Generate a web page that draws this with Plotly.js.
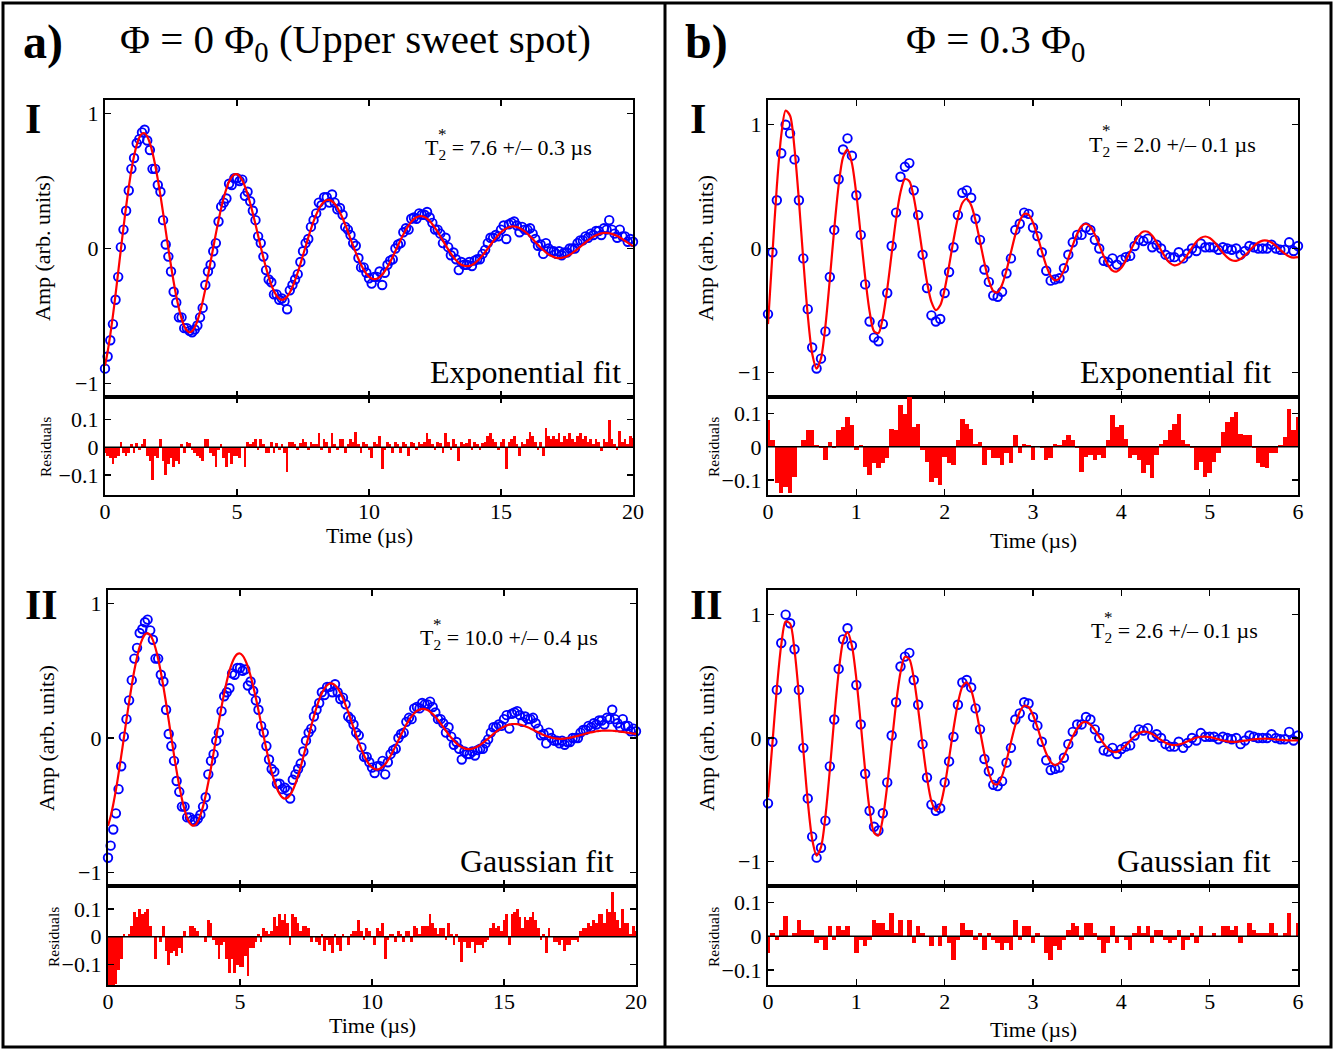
<!DOCTYPE html>
<html><head><meta charset="utf-8">
<script src="https://cdn.plot.ly/plotly-3.0.1.min.js"></script>
<style>html,body{margin:0;padding:0;background:#fff}#chart{width:1335px;height:1050px}</style>
</head><body><div id="chart"></div>
<script>
// ---------- Panel a (Phi = 0), time step 0.1 us, 0..20 us ----------
const timeStartA = 0, timeStepA = 0.1;
const dataA = [-0.89,-0.80,-0.68,-0.56,-0.38,-0.21,0.01,0.14,0.28,0.43,
0.59,0.67,0.78,0.81,0.86,0.88,0.80,0.73,0.59,0.59,
0.47,0.42,0.21,0.03,-0.06,-0.17,-0.32,-0.40,-0.51,-0.51,
-0.59,-0.59,-0.61,-0.62,-0.60,-0.57,-0.51,-0.44,-0.27,-0.17,
-0.12,-0.02,0.04,0.20,0.31,0.34,0.37,0.48,0.47,0.52,
0.52,0.50,0.51,0.39,0.42,0.35,0.28,0.21,0.09,0.04,
-0.06,-0.16,-0.23,-0.25,-0.34,-0.34,-0.38,-0.37,-0.39,-0.45,
-0.31,-0.27,-0.23,-0.19,-0.10,-0.02,0.04,0.07,0.16,0.21,
0.26,0.34,0.32,0.38,0.38,0.34,0.40,0.34,0.29,0.30,
0.25,0.16,0.14,0.10,0.04,0.02,-0.07,-0.14,-0.14,-0.18,
-0.22,-0.26,-0.21,-0.21,-0.17,-0.27,-0.18,-0.12,-0.09,-0.08,
0.00,0.03,0.04,0.12,0.15,0.14,0.22,0.23,0.22,0.26,
0.25,0.25,0.27,0.23,0.19,0.14,0.14,0.11,0.04,0.08,
0.01,-0.05,-0.03,-0.08,-0.16,-0.10,-0.12,-0.12,-0.10,-0.13,
-0.09,-0.08,-0.08,-0.04,-0.01,0.04,0.08,0.08,0.10,0.09,
0.14,0.17,0.07,0.18,0.19,0.20,0.17,0.12,0.16,0.14,
0.14,0.15,0.11,0.07,0.02,0.03,-0.04,0.04,0.00,-0.02,
-0.02,-0.04,-0.02,-0.05,-0.03,-0.03,0.00,0.00,0.00,0.04,
0.06,0.06,0.09,0.08,0.11,0.10,0.13,0.13,0.10,0.15,
0.14,0.21,0.14,0.11,0.08,0.14,0.09,0.09,0.05,0.07,
0.05];
const expFitA = [-0.868,-0.765,-0.640,-0.497,-0.340,-0.175,-0.009,0.155,0.311,0.454,
0.580,0.685,0.766,0.822,0.851,0.854,0.830,0.781,0.710,0.619,
0.512,0.393,0.264,0.132,0.000,-0.127,-0.246,-0.353,-0.445,-0.519,
-0.574,-0.608,-0.621,-0.612,-0.583,-0.536,-0.471,-0.392,-0.301,-0.202,
-0.098,0.006,0.110,0.208,0.299,0.378,0.444,0.496,0.531,0.549,
0.551,0.536,0.505,0.460,0.403,0.335,0.260,0.179,0.095,0.012,
-0.068,-0.143,-0.211,-0.269,-0.315,-0.350,-0.371,-0.380,-0.374,-0.356,
-0.326,-0.285,-0.235,-0.178,-0.116,-0.050,0.016,0.082,0.144,0.201,
0.251,0.293,0.325,0.347,0.359,0.360,0.350,0.331,0.303,0.266,
0.224,0.176,0.125,0.072,0.020,-0.031,-0.078,-0.121,-0.157,-0.187,
-0.209,-0.222,-0.227,-0.224,-0.212,-0.193,-0.168,-0.136,-0.100,-0.061,
-0.019,0.022,0.064,0.103,0.139,0.170,0.197,0.217,0.231,0.239,
0.239,0.233,0.221,0.203,0.180,0.153,0.123,0.091,0.058,0.025,
-0.007,-0.037,-0.064,-0.087,-0.106,-0.120,-0.128,-0.131,-0.129,-0.122,
-0.110,-0.093,-0.074,-0.051,-0.026,0.000,0.026,0.052,0.077,0.100,
0.120,0.136,0.149,0.158,0.163,0.163,0.159,0.152,0.140,0.126,
0.109,0.090,0.070,0.049,0.028,0.008,-0.011,-0.028,-0.043,-0.054,
-0.063,-0.069,-0.071,-0.069,-0.065,-0.057,-0.047,-0.034,-0.020,-0.004,
0.012,0.029,0.045,0.061,0.075,0.088,0.098,0.106,0.112,0.115,
0.115,0.113,0.108,0.101,0.092,0.081,0.069,0.056,0.043,0.030,
0.017];
const expResA = [-0.02,-0.03,-0.04,-0.06,-0.04,-0.03,0.02,-0.02,-0.03,-0.02,
0.01,-0.02,0.015,-0.01,0.01,0.03,-0.03,-0.05,-0.12,-0.03,
-0.04,0.03,-0.05,-0.10,-0.06,-0.04,-0.07,-0.05,-0.06,0.01,
-0.02,0.02,0.015,-0.01,-0.02,-0.03,-0.04,-0.05,0.03,0.03,
-0.02,-0.03,-0.07,-0.01,0.01,-0.04,-0.07,-0.02,-0.06,-0.03,
-0.03,-0.04,0.0,-0.07,0.02,0.01,0.02,0.03,-0.01,0.03,
0.01,-0.02,-0.02,0.02,-0.02,0.015,-0.01,0.01,-0.02,-0.09,
0.02,0.02,0.01,-0.01,0.015,0.03,0.02,-0.01,0.02,0.01,
0.01,0.05,-0.01,0.03,0.02,-0.02,0.05,0.01,-0.01,0.03,
0.03,-0.02,0.01,0.03,0.02,0.055,0.01,-0.02,0.02,0.01,
-0.01,-0.04,0.02,0.01,0.04,-0.08,-0.01,0.02,0.01,-0.02,
0.02,0.01,-0.02,0.02,0.01,-0.03,0.02,0.015,-0.01,0.02,
0.01,0.02,0.05,0.03,0.01,-0.01,0.02,0.015,-0.02,0.05,
0.02,-0.01,0.03,0.01,-0.05,0.02,0.01,0.015,0.03,-0.01,
0.02,0.01,-0.01,0.015,0.02,0.04,0.05,0.03,0.02,-0.01,
0.02,0.03,-0.08,0.02,0.03,0.04,0.01,-0.03,0.02,0.01,
0.03,0.055,0.04,0.02,-0.01,0.02,-0.03,0.07,0.04,0.03,
0.04,0.03,0.05,0.02,0.04,0.03,0.05,0.03,0.02,0.04,
0.05,0.03,0.04,0.02,0.03,0.01,0.03,0.02,-0.015,0.03,
0.02,0.1,0.03,0.01,-0.01,0.06,0.02,0.03,0.01,0.04,
0.035];
const gaussFitA = [-0.653,-0.583,-0.492,-0.386,-0.265,-0.135,0.000,0.136,0.268,0.392,
0.505,0.601,0.679,0.735,0.770,0.780,0.765,0.727,0.667,0.588,
0.491,0.380,0.258,0.131,0.002,-0.125,-0.246,-0.356,-0.453,-0.533,
-0.594,-0.633,-0.651,-0.647,-0.621,-0.574,-0.508,-0.425,-0.329,-0.223,
-0.111,0.005,0.120,0.230,0.332,0.422,0.499,0.558,0.601,0.624,
0.628,0.612,0.578,0.528,0.463,0.385,0.298,0.204,0.107,0.010,
-0.084,-0.173,-0.252,-0.320,-0.376,-0.416,-0.441,-0.451,-0.444,-0.423,
-0.387,-0.339,-0.280,-0.213,-0.139,-0.063,0.015,0.090,0.162,0.228,
0.285,0.332,0.368,0.392,0.405,0.404,0.392,0.369,0.336,0.294,
0.245,0.192,0.135,0.077,0.020,-0.035,-0.085,-0.130,-0.168,-0.198,
-0.219,-0.231,-0.235,-0.229,-0.215,-0.194,-0.167,-0.134,-0.097,-0.057,
-0.017,0.024,0.063,0.100,0.133,0.161,0.184,0.201,0.211,0.216,
0.215,0.208,0.195,0.178,0.157,0.134,0.108,0.081,0.054,0.027,
0.003,-0.020,-0.040,-0.056,-0.069,-0.077,-0.082,-0.082,-0.079,-0.073,
-0.063,-0.051,-0.036,-0.020,-0.004,0.013,0.030,0.046,0.060,0.073,
0.084,0.093,0.099,0.103,0.104,0.103,0.100,0.095,0.088,0.080,
0.071,0.061,0.051,0.041,0.032,0.023,0.015,0.008,0.003,-0.002,
-0.004,-0.006,-0.006,-0.004,-0.002,0.002,0.006,0.011,0.016,0.022,
0.027,0.033,0.038,0.042,0.046,0.050,0.052,0.054,0.055,0.055,
0.055,0.054,0.052,0.050,0.047,0.045,0.042,0.039,0.036,0.033,
0.031];
const gaussResA = [-0.24,-0.22,-0.19,-0.17,-0.12,-0.08,0.01,0.00,0.01,0.04,
0.09,0.07,0.10,0.08,0.09,0.10,0.04,0.00,-0.08,0.00,
-0.02,0.04,-0.05,-0.10,-0.06,-0.05,-0.07,-0.04,-0.06,0.02,
0.00,0.04,0.04,0.03,0.02,0.00,0.00,-0.02,0.06,0.05,
-0.01,-0.03,-0.08,-0.03,-0.02,-0.08,-0.13,-0.08,-0.13,-0.10,
-0.11,-0.11,-0.07,-0.14,-0.04,-0.04,-0.02,0.01,-0.02,0.03,
0.02,0.01,0.02,0.07,0.04,0.08,0.06,0.08,0.05,-0.03,
0.08,0.07,0.05,0.02,0.04,0.04,0.03,-0.02,0.00,-0.02,
-0.03,0.01,-0.05,-0.01,-0.03,-0.06,0.01,-0.03,-0.05,0.01,
0.00,-0.03,0.01,0.02,0.02,0.06,0.02,-0.01,0.03,0.02,
0.00,-0.03,0.03,0.02,0.05,-0.08,-0.01,0.01,0.01,-0.02,
0.02,0.01,-0.02,0.02,0.02,-0.02,0.04,0.03,0.01,0.04,
0.04,0.04,0.08,0.05,0.03,0.01,0.03,0.03,-0.01,0.05,
0.01,-0.03,0.01,-0.02,-0.09,-0.02,-0.04,-0.04,-0.02,-0.06,
-0.03,-0.03,-0.04,-0.02,-0.01,0.03,0.05,0.03,0.04,0.02,
0.06,0.08,-0.03,0.08,0.09,0.10,0.07,0.03,0.07,0.06,
0.07,0.09,0.06,0.03,-0.01,0.01,-0.06,0.03,0.00,-0.02,
-0.02,-0.03,-0.01,-0.05,-0.03,-0.03,-0.01,-0.01,-0.02,0.02,
0.03,0.03,0.05,0.04,0.06,0.05,0.08,0.08,0.05,0.10,
0.09,0.16,0.09,0.06,0.03,0.10,0.05,0.05,0.01,0.04,
0.02];

// ---------- Panel b (Phi = 0.3), time step 0.05 us, 0..6 us ----------
const timeStartB = 0, timeStepB = 0.05;
const dataB = [-0.53,-0.03,0.39,0.77,1.00,0.93,0.72,0.39,-0.08,-0.49,
-0.80,-0.97,-0.89,-0.67,-0.23,0.15,0.56,0.80,0.89,0.75,
0.43,0.11,-0.29,-0.59,-0.72,-0.75,-0.61,-0.36,0.02,0.29,
0.58,0.66,0.69,0.47,0.27,-0.05,-0.32,-0.54,-0.59,-0.57,
-0.36,-0.19,0.01,0.27,0.45,0.47,0.41,0.24,0.07,-0.17,
-0.27,-0.38,-0.39,-0.35,-0.20,-0.08,0.15,0.20,0.29,0.28,
0.17,0.10,-0.03,-0.18,-0.26,-0.25,-0.24,-0.16,-0.05,0.05,
0.11,0.11,0.17,0.15,0.07,0.00,-0.10,-0.11,-0.08,-0.13,
-0.09,-0.07,-0.06,0.02,0.07,0.06,0.08,0.01,0.03,0.00,
-0.05,-0.07,-0.07,-0.03,-0.08,-0.04,0.00,-0.02,0.04,0.01,
0.01,0.01,-0.01,0.01,0.00,-0.01,0.00,-0.05,-0.02,0.02,
0.01,0.00,0.00,0.00,0.03,0.00,-0.01,-0.01,0.05,-0.02,
0.02];
const expFitB = [-0.611,-0.045,0.501,0.914,1.115,1.073,0.808,0.387,-0.097,-0.538,
-0.849,-0.971,-0.887,-0.625,-0.248,0.159,0.512,0.739,0.800,0.689,
0.439,0.108,-0.231,-0.508,-0.669,-0.684,-0.559,-0.326,-0.040,0.240,
0.454,0.561,0.544,0.414,0.201,-0.044,-0.271,-0.432,-0.498,-0.459,
-0.330,-0.139,0.068,0.249,0.368,0.402,0.350,0.225,0.057,-0.116,
-0.259,-0.343,-0.354,-0.293,-0.177,-0.031,0.112,0.223,0.279,0.273,
0.209,0.102,-0.022,-0.139,-0.222,-0.258,-0.241,-0.176,-0.080,0.026,
0.119,0.181,0.200,0.175,0.113,0.028,-0.061,-0.134,-0.179,-0.186,
-0.156,-0.098,-0.024,0.049,0.106,0.137,0.135,0.103,0.050,-0.014,
-0.073,-0.117,-0.136,-0.128,-0.096,-0.048,0.006,0.054,0.086,0.097,
0.085,0.054,0.011,-0.034,-0.072,-0.095,-0.100,-0.085,-0.056,-0.019,
0.019,0.048,0.064,0.064,0.049,0.022,-0.011,-0.041,-0.064,-0.074,
-0.070];
const expResB = [0.08,0.02,-0.11,-0.14,-0.12,-0.14,-0.09,0.0,0.02,0.05,
0.05,0.005,-0.005,-0.04,0.015,-0.005,0.05,0.06,0.09,0.065,
-0.01,0.005,-0.06,-0.085,-0.05,-0.065,-0.05,-0.035,0.055,0.05,
0.125,0.10,0.15,0.06,0.07,-0.01,-0.045,-0.105,-0.095,-0.115,
-0.03,-0.05,-0.055,0.02,0.085,0.07,0.055,0.01,0.015,-0.055,
-0.01,-0.035,-0.035,-0.055,-0.02,-0.05,0.035,-0.02,0.01,0.005,
-0.04,0.0,-0.005,-0.04,-0.035,0.01,0.005,0.02,0.035,0.02,
-0.005,-0.075,-0.03,-0.025,-0.04,-0.025,-0.035,0.02,0.095,0.06,
0.065,0.025,-0.035,-0.025,-0.04,-0.08,-0.055,-0.095,-0.025,0.01,
0.02,0.05,0.07,0.10,0.02,0.01,-0.005,-0.07,-0.045,-0.09,
-0.08,-0.045,-0.02,0.045,0.075,0.09,0.105,0.04,0.035,0.035,
-0.005,-0.05,-0.06,-0.065,-0.02,-0.02,0.005,0.03,0.115,0.05,
0.09];
const gaussFitB = [-0.481,-0.043,0.401,0.755,0.944,0.928,0.712,0.345,-0.096,-0.513,
-0.820,-0.953,-0.885,-0.635,-0.259,0.161,0.534,0.783,0.859,0.748,
0.480,0.116,-0.264,-0.580,-0.767,-0.791,-0.650,-0.383,-0.050,0.278,
0.531,0.658,0.640,0.486,0.235,-0.056,-0.323,-0.513,-0.589,-0.542,
-0.388,-0.165,0.075,0.282,0.415,0.451,0.388,0.245,0.059,-0.130,
-0.282,-0.368,-0.375,-0.307,-0.185,-0.036,0.105,0.210,0.261,0.250,
0.186,0.086,-0.026,-0.126,-0.194,-0.220,-0.201,-0.146,-0.069,0.012,
0.079,0.120,0.130,0.109,0.065,0.009,-0.046,-0.089,-0.112,-0.113,
-0.093,-0.060,-0.022,0.014,0.039,0.051,0.048,0.032,0.009,-0.016,
-0.038,-0.053,-0.058,-0.053,-0.042,-0.026,-0.011,0.002,0.010,0.011,
0.007,-0.001,-0.011,-0.020,-0.027,-0.031,-0.031,-0.027,-0.022,-0.016,
-0.011,-0.007,-0.006,-0.006,-0.008,-0.012,-0.015,-0.018,-0.020,-0.020,
-0.020];
const gaussResB = [-0.05,0.01,-0.01,0.02,0.06,0.00,0.01,0.05,0.02,0.02,
0.02,-0.02,-0.01,-0.04,0.03,-0.01,0.03,0.02,0.03,0.00,
-0.05,-0.01,-0.03,-0.01,0.05,0.04,0.04,0.02,0.07,0.01,
0.05,0.00,0.05,-0.02,0.03,0.01,0.00,-0.03,0.00,-0.03,
0.03,-0.02,-0.07,-0.01,0.04,0.02,0.02,-0.01,0.01,-0.04,
0.01,-0.01,-0.02,-0.04,-0.02,-0.04,0.05,-0.01,0.03,0.03,
-0.02,0.01,0.00,-0.05,-0.07,-0.03,-0.04,-0.01,0.02,0.04,
0.03,-0.01,0.04,0.04,0.01,-0.01,-0.05,-0.02,0.03,-0.02,
0.00,-0.01,-0.04,0.01,0.03,0.01,0.03,-0.02,0.02,0.02,
-0.01,-0.02,-0.01,0.02,-0.04,-0.01,0.01,-0.02,0.03,0.00,
0.00,0.01,0.00,0.03,0.03,0.02,0.03,-0.02,0.00,0.04,
0.02,0.01,0.01,0.01,0.04,0.01,0.00,0.01,0.07,0.00,
0.04];

// Tick labels
const ticksA = [0,5,10,15,20], tickTextA = ['0','5','10','15','20'];
const ticksB = [0,1,2,3,4,5,6], tickTextB = ['0','1','2','3','4','5','6'];
const ampTicks = [-1,0,1], ampTickText = ['\u22121','0','1'];
const resTicks = [-0.1,0,0.1], resTickText = ['\u22120.1','0','0.1'];

// ---------- layout helpers ----------
const W = 1335, H = 1050;
const px = x => x / W, py = y => 1 - y / H;
const F = 'Liberation Serif, "Times New Roman", Times, serif';

function pts(y, x0, dx, n){ return {type:'scatter', mode:'markers', y:y, x0:x0, dx:dx, xaxis:'x'+n, yaxis:'y'+n, cliponaxis:false,
  marker:{symbol:'circle-open', size:8.5, color:'#0000ff', line:{width:1.9, color:'#0000ff'}}, hoverinfo:'skip'}; }
function fitl(y, x0, dx, n){ return {type:'scatter', mode:'lines', y:y, x0:x0, dx:dx, xaxis:'x'+n, yaxis:'y'+n,
  line:{color:'#ff0000', width:2.2, shape:'spline', smoothing:0.8}, hoverinfo:'skip'}; }
function bars(y, x0, dx, n){ return {type:'bar', y:y, x0:x0, dx:dx, xaxis:'x'+n, yaxis:'y'+n,
  marker:{color:'#ff0000', line:{width:0}}, hoverinfo:'skip'}; }

function ax(domain, range, tv, tt, anchor, labels, standoff){
  return {domain:domain, range:range, anchor:anchor, tickmode:'array', tickvals:tv, ticktext:tt, showticklabels:labels,
    showline:true, linecolor:'#000', linewidth:2.2, mirror:'ticks', ticks:'inside', ticklen:6, tickwidth:1.3, tickcolor:'#000',
    ticklabelstandoff:standoff||0,
    showgrid:false, zeroline:false, fixedrange:true, tickfont:{family:F, size:22, color:'#000'}};
}

// pixel boxes [left, right, top, bottom]
const boxes = {
  1:[105,633,100,397], 2:[105,633,397,495],
  3:[108,636,590,886], 4:[108,636,886,985],
  5:[768,1298,100,397], 6:[768,1298,397,495],
  7:[768,1298,590,886], 8:[768,1298,886,985]
};
const layout = {width:W, height:H, margin:{l:0,r:0,t:0,b:0}, showlegend:false, bargap:0,
  paper_bgcolor:'#fff', plot_bgcolor:'#fff', font:{family:F, color:'#000'}};

const axSpec = {
  1:{xr:[0,20], yr:[-1.1,1.1], xt:[ticksA,tickTextA], yt:[ampTicks,ampTickText], xl:false},
  2:{xr:[0,20], yr:[-0.173,0.182], xt:[ticksA,tickTextA], yt:[resTicks,resTickText], xl:true},
  3:{xr:[0,20], yr:[-1.1,1.1], xt:[ticksA,tickTextA], yt:[ampTicks,ampTickText], xl:false},
  4:{xr:[0,20], yr:[-0.173,0.182], xt:[ticksA,tickTextA], yt:[resTicks,resTickText], xl:true},
  5:{xr:[0,6], yr:[-1.2,1.2], xt:[ticksB,tickTextB], yt:[ampTicks,ampTickText], xl:false},
  6:{xr:[0,6], yr:[-0.145,0.15], xt:[ticksB,tickTextB], yt:[resTicks,resTickText], xl:true},
  7:{xr:[0,6], yr:[-1.2,1.2], xt:[ticksB,tickTextB], yt:[ampTicks,ampTickText], xl:false},
  8:{xr:[0,6], yr:[-0.145,0.15], xt:[ticksB,tickTextB], yt:[resTicks,resTickText], xl:true}
};
const shapes = [];
for (let n = 1; n <= 8; n++) {
  const b = boxes[n], s = axSpec[n];
  const xs = n === 1 ? '' : String(n);
  layout['xaxis'+xs] = ax([px(b[0]), px(b[1])], s.xr, s.xt[0], s.xt[1], 'y'+xs, s.xl, -5);
  layout['yaxis'+xs] = ax([py(b[3]), py(b[2])], s.yr, s.yt[0], s.yt[1], 'x'+xs, true, 0);
  if (n % 2 === 0) {
    shapes.push({type:'line', xref:'x'+xs+' domain', yref:'y'+xs, x0:0, x1:1, y0:0, y1:0, layer:'above', line:{color:'#000', width:1.5}});
  }
}
// panel frames
shapes.push({type:'rect', xref:'paper', yref:'paper', x0:px(3), x1:px(1331), y0:py(1047), y1:py(3), line:{color:'#000', width:3}});
shapes.push({type:'line', xref:'paper', yref:'paper', x0:px(665), x1:px(665), y0:py(1047), y1:py(3), line:{color:'#000', width:3}});
layout.shapes = shapes;

function T(text, x, y, size, xanchor, extra){
  return Object.assign({text:text, xref:'paper', yref:'paper', x:px(x), y:py(y), xanchor:xanchor||'center', yanchor:'middle',
    showarrow:false, font:{family:F, size:size, color:'#000'}}, extra||{});
}
const rot = {textangle:-90};
layout.annotations = [
  T('<b>a)</b>', 21, 42, 48, 'left'),
  T('\u03A6 = 0 \u03A6<sub>0</sub> (Upper sweet spot)', 355, 42, 41),
  T('<b>b)</b>', 683, 42, 48, 'left'),
  T('\u03A6 = 0.3 \u03A6<sub>0</sub>', 995, 42, 41),
  T('<b>I</b>', 23, 119, 42, 'left'),
  T('<b>II</b>', 23, 605, 42, 'left'),
  T('<b>I</b>', 688, 119, 42, 'left'),
  T('<b>II</b>', 688, 605, 42, 'left'),
  T('Amp (arb. units)', 43, 248, 22, 'center', rot),
  T('Amp (arb. units)', 46, 738, 22, 'center', rot),
  T('Amp (arb. units)', 706, 248, 22, 'center', rot),
  T('Amp (arb. units)', 706, 738, 22, 'center', rot),
  T('Residuals', 45, 447, 15.5, 'center', rot),
  T('Residuals', 53, 937, 15.5, 'center', rot),
  T('Residuals', 713, 447, 15.5, 'center', rot),
  T('Residuals', 713, 937, 15.5, 'center', rot),
  T('Time (\u00B5s)', 369, 535, 22),
  T('Time (\u00B5s)', 372, 1025, 22),
  T('Time (\u00B5s)', 1033, 540, 22),
  T('Time (\u00B5s)', 1033, 1029, 22),
  T('Exponential fit', 623, 372, 32, 'right'),
  T('Exponential fit', 1273, 372, 32, 'right'),
  T('Gaussian fit', 616, 861, 32, 'right'),
  T('Gaussian fit', 1273, 861, 32, 'right'),
  T('T<sub>2</sub> = 7.6 +/\u2013 0.3 \u00B5s', 423, 149, 22, 'left'),
  T('*', 442, 134, 17),
  T('T<sub>2</sub> = 10.0 +/\u2013 0.4 \u00B5s', 418, 639, 22, 'left'),
  T('*', 437, 624, 17),
  T('T<sub>2</sub> = 2.0 +/\u2013 0.1 \u00B5s', 1087, 146, 22, 'left'),
  T('*', 1106, 131, 17),
  T('T<sub>2</sub> = 2.6 +/\u2013 0.1 \u00B5s', 1089, 632, 22, 'left'),
  T('*', 1108, 617, 17)
];

const traces = [
  pts(dataA, timeStartA, timeStepA, ''), fitl(expFitA, timeStartA, timeStepA, ''),
  bars(expResA, timeStartA, timeStepA, '2'),
  pts(dataA, timeStartA, timeStepA, '3'), fitl(gaussFitA, timeStartA, timeStepA, '3'),
  bars(gaussResA, timeStartA, timeStepA, '4'),
  pts(dataB, timeStartB, timeStepB, '5'), fitl(expFitB, timeStartB, timeStepB, '5'),
  bars(expResB, timeStartB, timeStepB, '6'),
  pts(dataB, timeStartB, timeStepB, '7'), fitl(gaussFitB, timeStartB, timeStepB, '7'),
  bars(gaussResB, timeStartB, timeStepB, '8')
];
Plotly.newPlot('chart', traces, layout, {displayModeBar:false, staticPlot:true});
</script>
</body></html>
